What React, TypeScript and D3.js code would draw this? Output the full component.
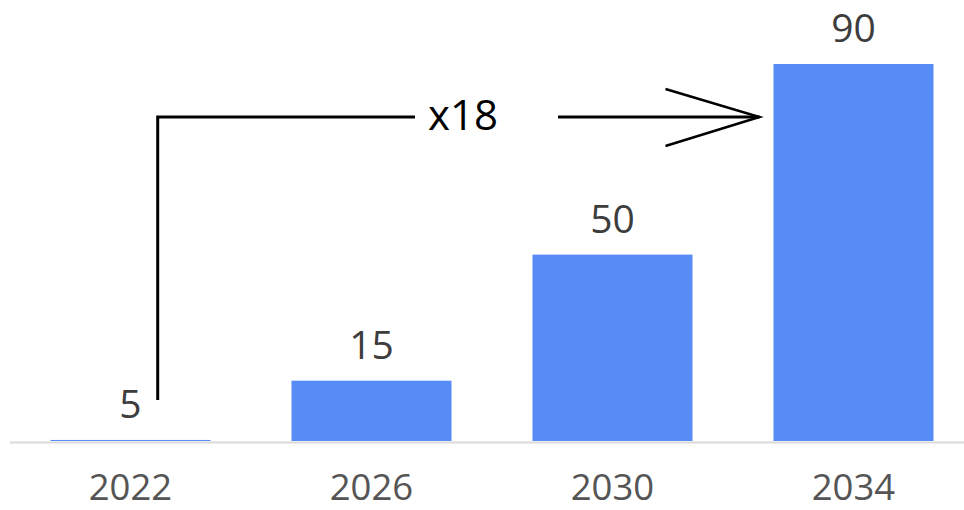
import React from "react";
import * as d3 from "d3";

const categories = ["2022", "2026", "2030", "2034"];
const valueLabels = [5, 15, 50, 90];
// bar heights as drawn in the picture (same units as the y domain)
const barValues = [0.25, 14.4, 44.5, 90];
const multiplierLabel = "x18";

const W = 964;
const H = 510;
const FONT = "'Open Sans', 'DejaVu Sans', sans-serif";
const BLUE = "#578cf6";

export default function App() {
  const x = d3
    .scaleBand<string>()
    .domain(categories)
    .range([10, 974])
    .paddingInner(0.336)
    .paddingOuter(0.168);
  const y = d3.scaleLinear().domain([0, 90]).range([441, 64]);
  const bw = x.bandwidth();

  const annY = 117;
  const vx = (x("2022") as number) + bw * 0.67;
  const vBottom = 400;
  const tipX = (x("2034") as number) - 14;
  const textX = 428;
  const leftEnd = 415;
  const rightStart = 558;

  return (
    <svg
      width={W}
      height={H}
      style={{ position: "absolute", left: 0, top: 0, background: "#fff" }}
    >
      <line x1={10} x2={964} y1={442.5} y2={442.5} stroke="#d9d9d9" strokeWidth={2} />
      {categories.map((c, i) => {
        const h = Math.max(1, y(0) - y(barValues[i]));
        return (
          <rect
            key={c}
            x={x(c)}
            y={y(0) - h}
            width={bw}
            height={h}
            fill={BLUE}
          />
        );
      })}
      {categories.map((c, i) => (
        <text
          key={"v" + c}
          x={(x(c) as number) + bw / 2}
          y={y(barValues[i]) - 22}
          textAnchor="middle"
          fontFamily={FONT}
          fontSize={39}
          fill="#3d3d3d"
        >
          {valueLabels[i]}
        </text>
      ))}
      {categories.map((c) => (
        <text
          key={"c" + c}
          x={(x(c) as number) + bw / 2}
          y={500}
          textAnchor="middle"
          fontFamily={FONT}
          fontSize={36.5}
          fill="#555555"
        >
          {c}
        </text>
      ))}
      <path
        d={`M${vx},${vBottom} V${annY} H${leftEnd}`}
        fill="none"
        stroke="#000"
        strokeWidth={3}
      />
      <line x1={rightStart} x2={tipX} y1={annY} y2={annY} stroke="#000" strokeWidth={3} />
      <path
        d={`M${tipX - 94},${annY - 28} L${tipX},${annY} L${tipX - 94},${annY + 29}`}
        fill="none"
        stroke="#000"
        strokeWidth={2.5}
      />
      <text x={textX} y={130} fontFamily={FONT} fontSize={42} fill="#000">
        {multiplierLabel}
      </text>
    </svg>
  );
}
